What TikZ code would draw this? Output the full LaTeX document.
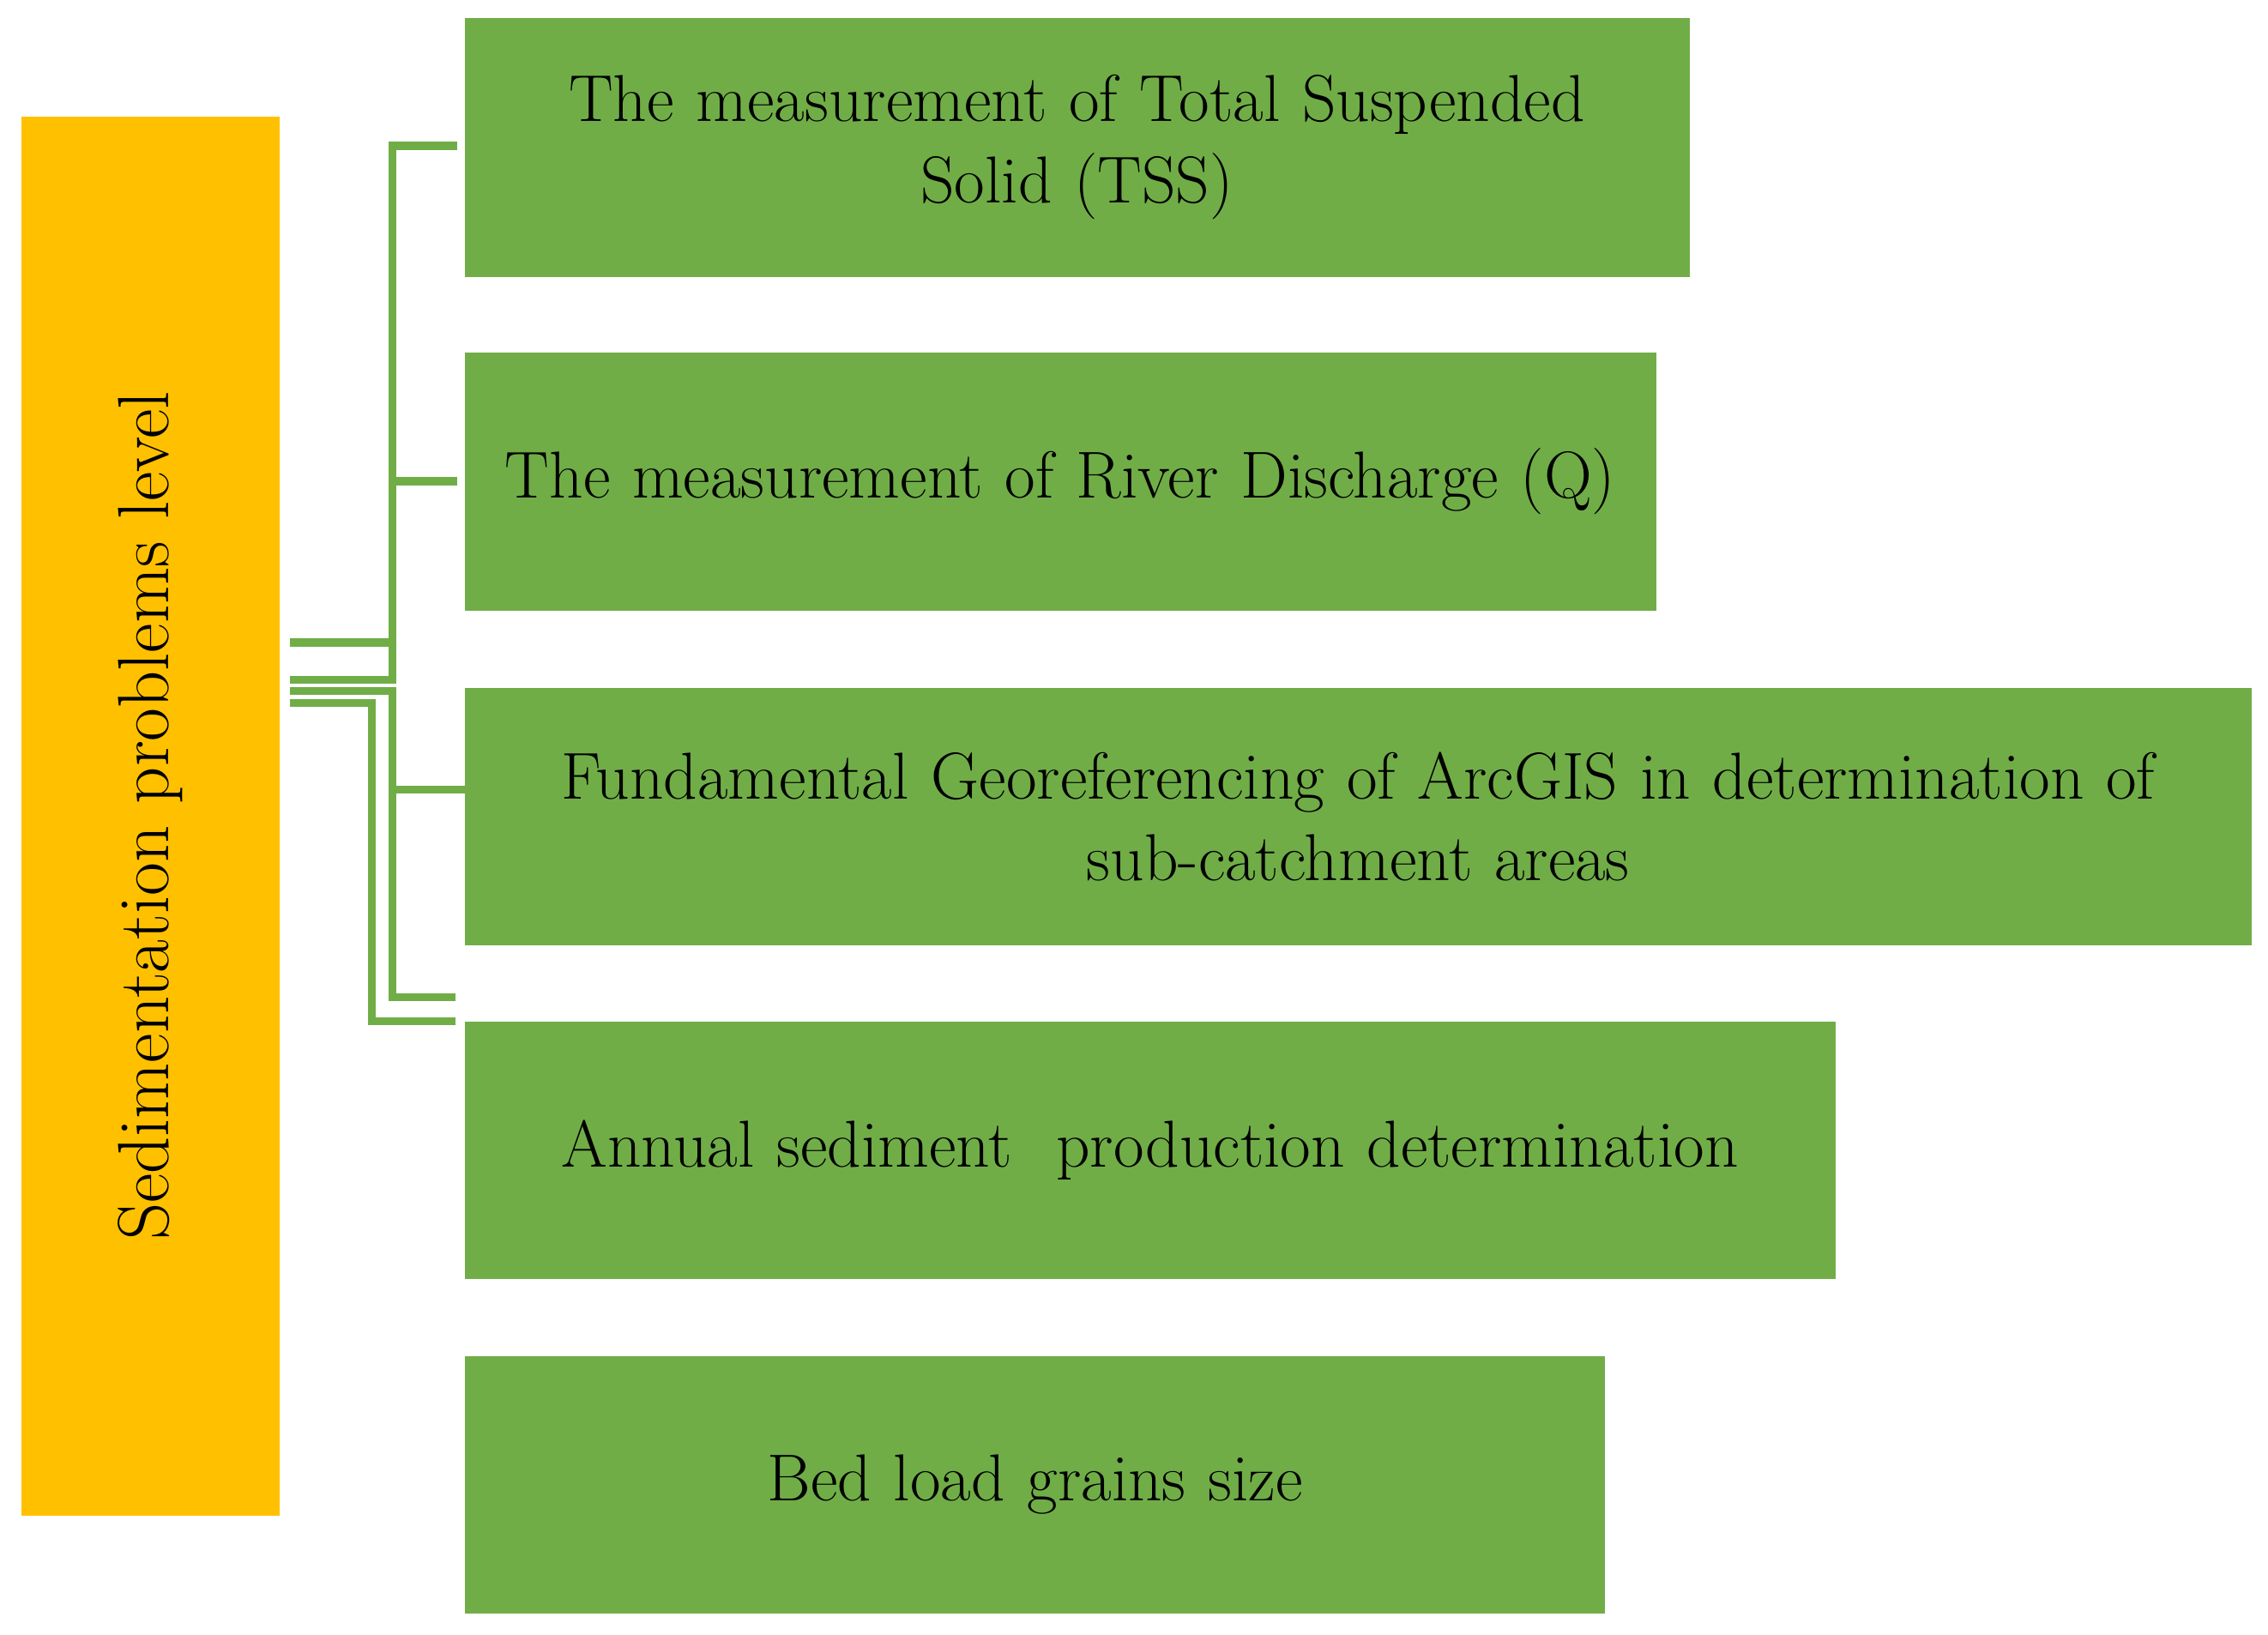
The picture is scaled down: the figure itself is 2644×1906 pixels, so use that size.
\documentclass[tikz,border=0pt]{standalone}
\usepackage{tikz}
\usetikzlibrary{positioning}
\definecolor{boxgreen}{RGB}{112,173,71}
\definecolor{boxyellow}{RGB}{255,192,0}
\tikzstyle{task} = [rectangle, fill=boxgreen, anchor=north west, text centered, inner sep=0pt, font=\fontsize{22}{27}\selectfont]
\tikzstyle{link} = [draw=boxgreen, line width=0.09cm]
\begin{document}
\begin{tikzpicture}[x=0.01cm,y=-0.01cm]
			\useasboundingbox (0,0) rectangle (2644,1906);
			% level box
			\node[rectangle, fill=boxyellow, anchor=north west, minimum width=3.01cm, minimum height=16.3cm, inner sep=0pt] (level) at (24,135) {};
			\node[rotate=90, font=\fontsize{24}{28}\selectfont] at (level.center) {Sedimentation problems level};
			% tasks
			\node[task, minimum width=14.27cm, minimum height=3.02cm, text width=14cm] (tss) at (541,20) {The measurement of Total Suspended\\Solid (TSS)};
			\node[task, minimum width=13.88cm, minimum height=3.01cm, text width=13.8cm] (q) at (541,410) {The measurement of River Discharge (Q)};
			\node[task, minimum width=20.82cm, minimum height=3.0cm, text width=20.5cm] (gis) at (541,801) {Fundamental Georeferencing of ArcGIS in determination of\\sub-catchment areas};
			\node[task, minimum width=15.97cm, minimum height=3.0cm, text width=15.5cm] (annual) at (541,1190) {Annual sediment\ \ production determination};
			\node[task, minimum width=13.29cm, minimum height=3.0cm, text width=13cm] (bed) at (541,1580) {Bed load grains size};
			% junctions
			\coordinate (a1) at (457,170);
			\coordinate (a2) at (457,561);
			\coordinate (a3) at (457,749);
			\coordinate (a4) at (457,792);
			\coordinate (b1) at (457,805);
			\coordinate (b2) at (457,920);
			\coordinate (b3) at (457,1162);
			\coordinate (c1) at (433,819);
			\coordinate (c2) at (433,1190);
			% connectors
			\draw[link] (level.east |- a3) ++(11,0) -- (a3);
			\draw[link] (level.east |- a4) ++(11,0) -- (a4) -- (a1) -- (533,170);
			\draw[link] (a2) -- (533,561);
			\draw[link] (level.east |- b1) ++(11,0) -- (b1) -- (b3) -- (531,1162);
			\draw[link] (b2) -- (584,920);
			\draw[link] (level.east |- c1) ++(11,0) -- (c1) -- (c2) -- (531,1190);
\end{tikzpicture}
\end{document}
